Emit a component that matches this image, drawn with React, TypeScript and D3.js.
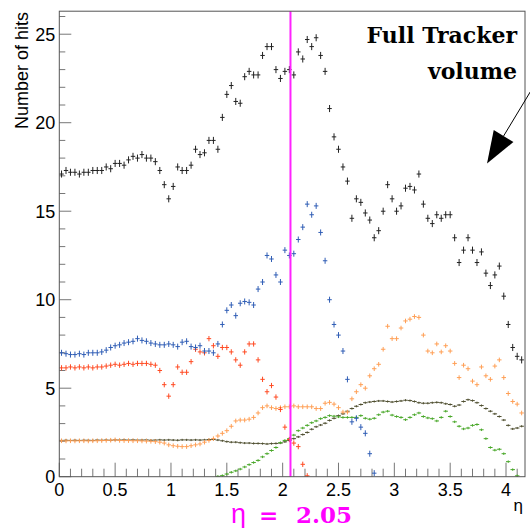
import * as d3 from "d3";
import { useEffect, useRef } from "react";

// bins in eta, width 0.04, centres 0.02 ... 4.14
const binWidth = 0.04;
const etaBins = d3.range(104).map(i => +(0.02 + i * binWidth).toFixed(2));

// total hits (black)
const hitsTotal = [
  17.1, 17.3, 17.2, 17.2, 17.1, 17.2, 17.2, 17.3, 17.3, 17.3,
  17.5, 17.4, 17.7, 17.7, 17.6, 17.9, 18.1, 18.0, 18.2, 18.0,
  18.0, 17.8, 17.3, 16.5, 15.7, 16.4, 17.5, 17.3, 17.3, 17.6,
  18.5, 18.2, 18.3, 19.0, 19.0, 18.5, 20.3, 21.6, 22.1, 21.2,
  21.1, 22.6, 22.9, 22.7, 22.7, 23.8, 24.3, 24.3, 23.0, 22.5,
  22.9, 23.0, 22.7, 24.0, 23.6, 24.7, 24.3, 24.8, 23.8, 22.9,
  20.8, 19.2, 18.5, 17.5, 16.7, 14.6, 15.7, 15.5, 14.9, 14.5,
  13.5, 13.9, 15.0, 16.5, 15.7, 15.0, 15.3, 16.3, 16.4, 16.2,
  17.1, 15.4, 14.6, 14.3, 14.8, 14.6, 14.8, 14.8, 13.5, 12.1,
  12.8, 13.5, 12.8, 12.1, 12.7, 11.5, 10.8, 11.4, 11.9, 10.2,
  8.6, 7.3, 6.8, 6.6,
];

// blue
const hitsBlue = [
  7.0, 6.95, 6.9, 6.9, 6.95, 6.9, 7.0, 7.0, 7.0, 7.05,
  7.15, 7.3, 7.4, 7.45, 7.55, 7.6, 7.65, 7.8, 7.7, 7.65,
  7.55, 7.5, 7.45, 7.45, 7.5, 7.45, 7.35, 7.6, 7.65, 7.35,
  7.3, 7.4, 7.1, 7.1, 7.0, 7.5, 8.6, 9.4, 9.7, 9.1,
  9.8, 9.9, 9.85, 9.7, 10.6, 11.0, 12.5, 12.3, 11.4, 11.0,
  12.8, 12.5, 12.6, 13.4, 14.1, 15.4, 14.8, 15.3, 13.8, 12.2,
  10.0, 8.6, 8.0, 7.1, 5.5, 3.1, 3.3, 2.8, 2.45, 1.3,
  0.2, null, null, null, null, null, null, null, null, null,
  null, null, null, null, null, null, null, null, null, null,
  null, null, null, null, null, null, null, null, null, null,
  null, null, null, null,
];

// red
const hitsRed = [
  6.15, 6.15, 6.2, 6.15, 6.2, 6.15, 6.2, 6.15, 6.2, 6.2,
  6.25, 6.3, 6.35, 6.3, 6.35, 6.4, 6.35, 6.4, 6.4, 6.4,
  6.35, 6.3, 6.0, 5.2, 4.55, 5.2, 6.2, 5.9, 5.9, 6.5,
  7.2, 7.05, 7.0, 7.8, 7.4, 6.8, 7.3, 7.3, 7.05, 6.6,
  6.3, 7.05, 7.5, 7.5, 6.6, 5.5, 4.8, 5.15, 4.5, 3.8,
  2.8, 2.1, 1.9, 1.7, 0.7, 0.05, null, null, null, null,
  null, null, null, null, null, null, null, null, null, null,
  null, null, null, null, null, null, null, null, null, null,
  null, null, null, null, null, null, null, null, null, null,
  null, null, null, null, null, null, null, null, null, null,
  null, null, null, null,
];

// orange
const hitsOrange = [
  2.03, 2.02, 2.03, 2.02, 2.03, 2.03, 2.02, 2.03, 2.03, 2.04,
  2.05, 2.06, 2.08, 2.05, 2.04, 2.04, 2.03, 2.03, 2.02, 2.01,
  2.0, 1.98, 1.95, 1.9, 1.8, 1.75, 1.72, 1.7, 1.7, 1.75,
  1.8, 1.85, 1.95, 2.05, 2.15, 2.3, 2.45, 2.6, 2.85, 3.15,
  3.2, 3.2, 3.25, 3.35, 3.6, 3.9, 4.0, 3.9, 3.85, 3.9,
  3.95, 3.95, 4.0, 3.95, 3.95, 3.95, 3.95, 3.85, 3.85, 4.15,
  4.2, 4.1, 3.9, 3.65, 3.65, 4.4, 4.8, 5.2, 5.0, 5.7,
  6.1, 6.35, 7.2, 8.5, 7.8, 7.8, 8.4, 8.8, 8.9, 9.05,
  9.0, 8.0, 7.1, 7.0, 7.5, 7.05, 7.4, 7.1, 6.4, 5.6,
  6.3, 6.1, 5.4, 5.2, 6.2, 5.7, 5.5, 6.25, 6.6, 5.6,
  4.7, 4.25, 4.1, 3.6,
];

// dark olive
const hitsOlive = [
  2.05, 2.06, 2.05, 2.06, 2.05, 2.06, 2.06, 2.05, 2.07, 2.06,
  2.07, 2.06, 2.08, 2.07, 2.08, 2.07, 2.08, 2.07, 2.07, 2.08,
  2.06, 2.07, 2.08, 2.07, 2.08, 2.07, 2.06, 2.08, 2.08, 2.07,
  2.08, 2.07, 2.08, 2.1, 2.1, 2.07, 2.03, 1.98, 1.95, 1.95,
  1.92, 1.9, 1.9, 1.88, 1.88, 1.87, 1.85, 1.87, 1.88, 1.9,
  1.97, 2.05, 2.15, 2.25, 2.38, 2.5, 2.68, 2.82, 2.92, 3.02,
  3.18, 3.3, 3.45, 3.55, 3.7, 3.85, 3.98, 4.08, 4.18, 4.22,
  4.25, 4.28, 4.28, 4.25, 4.22, 4.25, 4.28, 4.32, 4.3, 4.25,
  4.18, 4.15, 4.15, 4.18, 4.2, 4.18, 4.12, 4.08, 3.98, 4.05,
  4.25, 4.35, 4.3, 4.18, 4.02, 3.85, 3.7, 3.55, 3.4, 3.2,
  2.9, 2.7, 2.75, 2.85,
];

// green
const hitsGreen = [
  null, null, null, null, null, null, null, null, null, null,
  null, null, null, null, null, null, null, null, null, null,
  null, null, null, null, null, null, null, null, null, null,
  null, null, null, null, null, 0.02, 0.06, 0.15, 0.25, 0.33,
  0.43, 0.55, 0.68, 0.8, 0.92, 1.12, 1.3, 1.48, 1.65, 1.92,
  2.05, 2.15, 2.35, 2.6, 2.75, 2.9, 3.05, 3.15, 3.28, 3.35,
  3.45, 3.42, 3.38, 3.35, 3.35, 3.35, 3.35, 3.45, 3.3, 3.25,
  3.3, 3.5, 3.65, 3.7, 3.48, 3.4, 3.35, 3.22, 3.35, 3.5,
  3.6, 3.4, 3.32, 3.28, 3.15, 3.35, 3.7, 3.4, 3.1, 2.85,
  2.7, 2.75, 2.9, 2.95, 2.65, 2.15, 1.65, 1.5, 1.55, 1.3,
  0.85, 0.4, 0.05, null,
];

const series = [
  { name: "olive", values: hitsOlive, err: 0.06, color: "#4f4f30" },
  { name: "green", values: hitsGreen, err: 0.07, color: "#4aa82a" },
  { name: "orange", values: hitsOrange, err: 0.13, color: "#ff9f55" },
  { name: "red", values: hitsRed, err: 0.15, color: "#ff4a22" },
  { name: "blue", values: hitsBlue, err: 0.17, color: "#2f5db5" },
  { name: "total", values: hitsTotal, err: 0.2, color: "#222222" },
];

const xTickLabels = ["0", "0.5", "1", "1.5", "2", "2.5", "3", "3.5", "4"];
const yTickLabels = ["0", "5", "10", "15", "20", "25"];

const etaCut = 2.07;
const arrowFrom = [4.218, 21.75];
const arrowTo = [3.83, 17.7];

const W = 530;
const H = 528;
const frame = { left: 59.3, top: 11.2, right: 525, bottom: 476.7 };

const sansFont = "'Liberation Sans', Arial, Helvetica, sans-serif";
const serifFont = "'DejaVu Serif', serif";

const App = () => {
  const chartRef = useRef(null);

  useEffect(() => {
    const svg = d3.select(chartRef.current);
    svg.selectAll("*").remove();

    const x = d3.scaleLinear().domain([0, 4.17]).range([frame.left, frame.right]);
    const y = d3.scaleLinear().domain([0, 26.3]).range([frame.bottom, frame.top]);

    svg.append("rect")
      .attr("width", W).attr("height", H).attr("fill", "#fff");

    // ticks
    const ticks = svg.append("g").attr("stroke", "#777").attr("stroke-width", 1);
    d3.range(0, 42).forEach(i => {
      const v = i / 10;
      const major = i % 5 === 0;
      ticks.append("line")
        .attr("x1", x(v)).attr("x2", x(v))
        .attr("y1", frame.bottom).attr("y2", frame.bottom - (major ? 14 : 8));
    });
    d3.range(0, 27).forEach(v => {
      const major = v % 5 === 0;
      ticks.append("line")
        .attr("y1", y(v)).attr("y2", y(v))
        .attr("x1", frame.left).attr("x2", frame.left + (major ? 12 : 6));
    });

    // tick labels
    xTickLabels.forEach(t => {
      svg.append("text")
        .attr("x", x(+t)).attr("y", 496)
        .attr("text-anchor", "middle")
        .style("font-family", sansFont).style("font-size", "18px")
        .text(t);
    });
    yTickLabels.forEach(t => {
      svg.append("text")
        .attr("x", frame.left - 4).attr("y", y(+t))
        .attr("dy", "0.36em")
        .attr("text-anchor", "end")
        .style("font-family", sansFont).style("font-size", "18px")
        .text(t);
    });

    // axis titles
    svg.append("text")
      .attr("transform", `translate(28, 12) rotate(-90)`)
      .attr("text-anchor", "end")
      .style("font-family", sansFont).style("font-size", "18px")
      .text("Number of hits");
    svg.append("text")
      .attr("x", frame.right - 2).attr("y", 511)
      .attr("text-anchor", "end")
      .style("font-family", sansFont).style("font-size", "17px")
      .text("η");

    // data points with error crosses
    series.forEach(s => {
      const g = svg.append("g").attr("stroke", s.color).attr("stroke-width", 1);
      s.values.forEach((v, i) => {
        if (v === null) return;
        const c = etaBins[i];
        const cy = y(v);
        g.append("line")
          .attr("x1", x(c - binWidth / 2)).attr("x2", x(c + binWidth / 2))
          .attr("y1", cy).attr("y2", cy);
        g.append("line")
          .attr("x1", x(c)).attr("x2", x(c))
          .attr("y1", y(Math.max(0, v - s.err))).attr("y2", y(v + s.err));
      });
    });

    // eta cut line
    svg.append("line")
      .attr("x1", x(etaCut)).attr("x2", x(etaCut))
      .attr("y1", frame.top).attr("y2", frame.bottom)
      .attr("stroke", "#ff22ff").attr("stroke-width", 2);

    // frame
    svg.append("rect")
      .attr("x", frame.left).attr("y", frame.top)
      .attr("width", frame.right - frame.left).attr("height", frame.bottom - frame.top)
      .attr("fill", "none").attr("stroke", "#555").attr("stroke-width", 1);

    // annotation text
    const note = svg.append("text")
      .attr("text-anchor", "end")
      .style("font-family", serifFont).style("font-weight", "bold").style("font-size", "22px");
    note.append("tspan").attr("x", 517).attr("y", 43).text("Full Tracker");
    note.append("tspan").attr("x", 517).attr("y", 79).text("volume");

    // arrow
    const [x0, y0] = [x(arrowFrom[0]), y(arrowFrom[1])];
    const [x1, y1] = [x(arrowTo[0]), y(arrowTo[1])];
    const len = Math.hypot(x1 - x0, y1 - y0);
    const ux = (x1 - x0) / len, uy = (y1 - y0) / len;
    const headLen = 32, headHalf = 11.5;
    const bx = x1 - ux * headLen, by = y1 - uy * headLen;
    svg.append("line")
      .attr("x1", x0).attr("y1", y0).attr("x2", bx).attr("y2", by)
      .attr("stroke", "#000").attr("stroke-width", 1);
    svg.append("path")
      .attr("d", `M${x1},${y1}L${bx - uy * headHalf},${by + ux * headHalf}L${bx + uy * headHalf},${by - ux * headHalf}Z`)
      .attr("fill", "#000");

    // eta cut label
    const lbl = svg.append("text")
      .attr("y", 523)
      .attr("fill", "#ff00ff")
      .style("font-family", serifFont).style("font-weight", "bold").style("font-size", "23px");
    lbl.append("tspan").attr("x", 231).style("font-family", sansFont).style("font-weight", "normal").style("font-size", "27px").text("η");
    lbl.append("tspan").attr("x", 259).text("=");
    lbl.append("tspan").attr("x", 296).text("2.05");
  }, []);

  return (
    <svg
      ref={chartRef}
      width={W}
      height={H}
      style={{ position: "absolute", left: 0, top: 0, display: "block" }}
    ></svg>
  );
};

export default App;
